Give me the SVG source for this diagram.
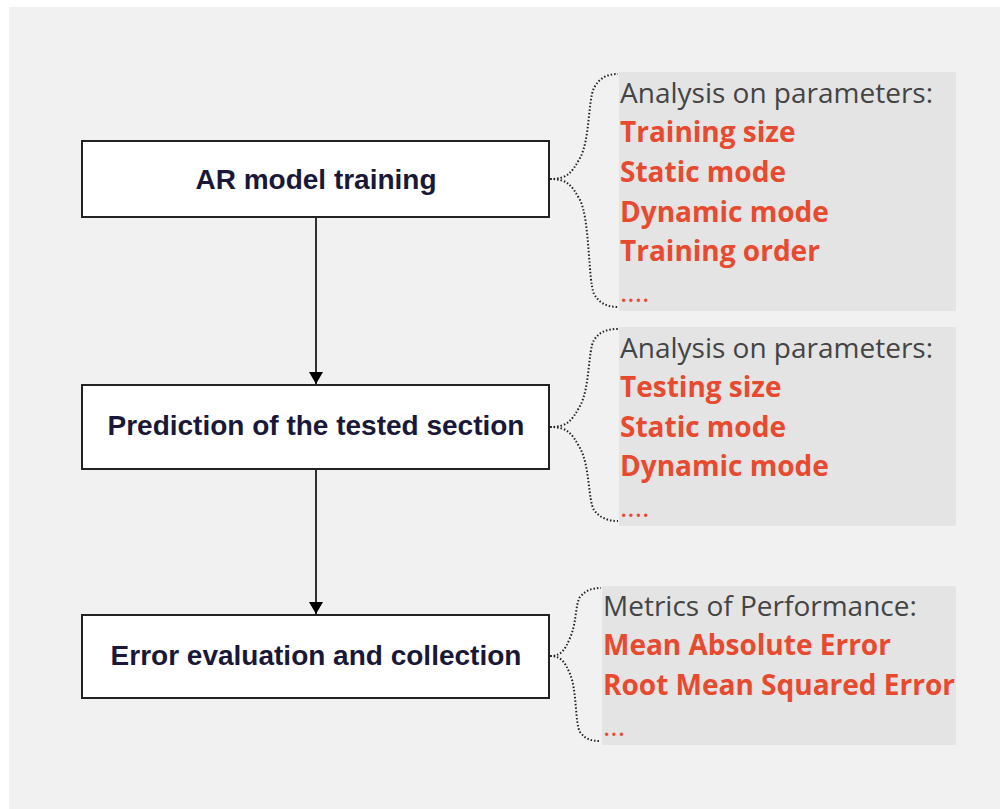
<svg xmlns="http://www.w3.org/2000/svg" width="1000" height="809" viewBox="0 0 1000 809">
<defs>
<style>
.box{fill:#fff;stroke:#222;stroke-width:2}
.lbl{font-family:"Liberation Sans",Arial,sans-serif;font-weight:bold;font-size:28px;fill:#1a1838;text-anchor:middle}
.panel{fill:#e4e4e4}
.head{font-family:"Open Sans","Noto Sans",sans-serif;font-size:28px;fill:#444}
.item{font-family:"Open Sans","Noto Sans",sans-serif;font-weight:bold;font-size:28px;fill:#e84a2f}
.dots{font-family:"Open Sans","Noto Sans",sans-serif;font-size:28px;fill:#e84a2f}
.brace{fill:none;stroke:#222;stroke-width:2;stroke-dasharray:1.5 2}
.conn{stroke:#000;stroke-width:1.6;fill:none}
</style>
<marker id="arr" viewBox="0 0 12 14" refX="12" refY="7" markerWidth="12" markerHeight="14" markerUnits="userSpaceOnUse" orient="auto">
<path d="M0,0 L12,7 L0,14 Z" fill="#000"/>
</marker>
</defs>
<rect x="0" y="0" width="1000" height="809" fill="#fff"/>
<rect x="9" y="7" width="991" height="802" fill="#f1f1f1"/>

<g id="connectors">
<line class="conn" x1="316" y1="218" x2="316" y2="384" marker-end="url(#arr)"/>
<line class="conn" x1="316" y1="470" x2="316" y2="614" marker-end="url(#arr)"/>
<path class="brace" d="M550,179 C568,179 572,172 580,158 C590,140 588,100 594,88 C600,77 608,74 618,74"/>
<path class="brace" d="M550,179 C568,179 572,186 580,200 C590,220 588,280 594,294 C600,304 608,307 618,307"/>
<path class="brace" d="M550,427 C568,427 572,420 580,406 C590,388 588,350 594,340 C600,331 608,329 618,329"/>
<path class="brace" d="M550,427 C568,427 572,434 580,448 C590,466 588,500 594,510 C600,518 608,521 618,521"/>
<path class="brace" d="M550,656 C561,656 565,650 570,638 C577,622 575,605 580,597 C586,590 592,588 601,588"/>
<path class="brace" d="M550,656 C561,656 565,662 570,674 C577,690 575,724 580,732 C586,740 592,741 601,741"/>
</g>

<g id="node-train">
<rect class="box" x="82" y="141" width="467" height="76"/>
<text class="lbl" x="316" y="189">AR model training</text>
</g>
<g id="node-predict">
<rect class="box" x="82" y="385" width="467" height="84"/>
<text class="lbl" x="316" y="435">Prediction of the tested section</text>
</g>
<g id="node-error">
<rect class="box" x="82" y="615" width="467" height="83"/>
<text class="lbl" x="316" y="665">Error evaluation and collection</text>
</g>

<g id="panel-train">
<rect class="panel" x="619" y="72" width="337" height="239"/>
<text class="head" x="620" y="103">Analysis on parameters:</text>
<text class="item" x="620" y="142">Training size</text>
<text class="item" x="620" y="182">Static mode</text>
<text class="item" x="620" y="222">Dynamic mode</text>
<text class="item" x="620" y="261">Training order</text>
<text class="dots" x="620" y="302">....</text>
</g>
<g id="panel-predict">
<rect class="panel" x="619" y="327" width="337" height="199"/>
<text class="head" x="620" y="358">Analysis on parameters:</text>
<text class="item" x="620" y="397">Testing size</text>
<text class="item" x="620" y="437">Static mode</text>
<text class="item" x="620" y="476">Dynamic mode</text>
<text class="dots" x="620" y="517">....</text>
</g>
<g id="panel-error">
<rect class="panel" x="602" y="586" width="354" height="159"/>
<text class="head" x="603" y="616">Metrics of Performance:</text>
<text class="item" x="603" y="655">Mean Absolute Error</text>
<text class="item" x="603" y="695">Root Mean Squared Error</text>
<text class="dots" x="603" y="736">...</text>
</g>
</svg>
